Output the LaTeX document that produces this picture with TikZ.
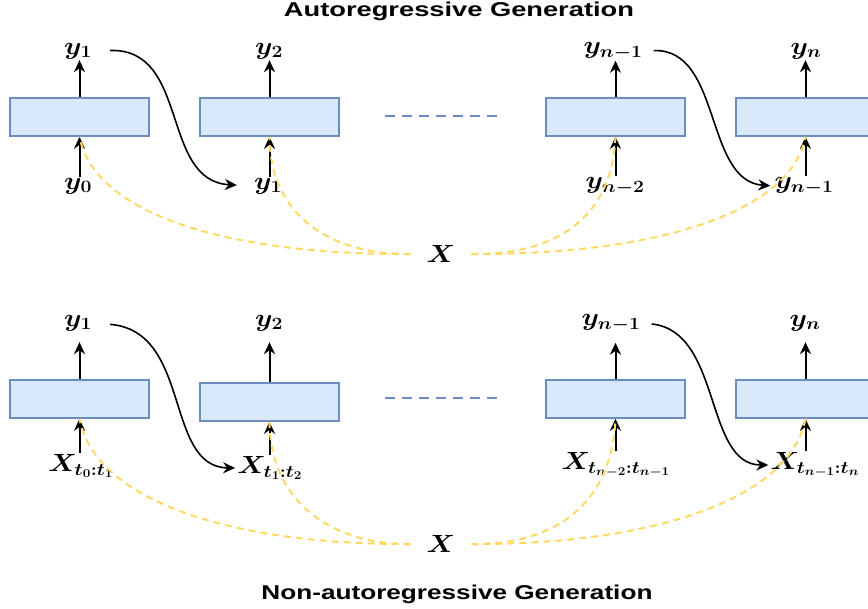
\documentclass[tikz,border=0pt]{standalone}
\usepackage{amsmath,bm,graphicx}
\usepackage{fontspec}
\setsansfont{Liberation Sans}
\usetikzlibrary{arrows.meta}
\definecolor{boxfill}{HTML}{DAE8FC}
\definecolor{boxdraw}{HTML}{6C8EBF}
\definecolor{gold}{HTML}{FFD966}
\newcommand\mlab[1]{\scalebox{1.12}[1]{$#1$}}
\begin{document}
\begin{tikzpicture}[x=1pt,y=-1pt,
  cell/.style={draw=boxdraw,fill=boxfill,line width=1.6pt,minimum width=139pt,minimum height=38pt,inner sep=0pt},
  lab/.style={inner sep=1pt,font=\boldmath\fontsize{25}{28}\selectfont},
  xlab/.style={lab,inner xsep=16pt},
  ttl/.style={inner sep=0pt,font=\sffamily\bfseries\fontsize{20}{22}\selectfont},
  arr/.style={draw=black,line width=2pt,-{Stealth[length=12pt,width=11pt]}},
  carr/.style={draw=black,line width=1.6pt,-{Stealth[length=12pt,width=11pt]}},
  gdash/.style={draw=gold,line width=2pt,dash pattern=on 7pt off 5pt},
  bdash/.style={draw=boxdraw,line width=2pt,dash pattern=on 10pt off 7pt}]
\useasboundingbox (0,0) rectangle (868,609);
% titles
\node[ttl] (t1) at (459,11) {\resizebox{350pt}{\height}{Autoregressive Generation}};
\node[ttl] (t2) at (457,594) {\resizebox{391pt}{\height}{Non-autoregressive Generation}};
% ---------- top row ----------
\node[cell] (a1) at (79.5,117) {};
\node[cell] (a2) at (269.5,117) {};
\node[cell] (a3) at (615.5,117) {};
\node[cell] (a4) at (805.5,117) {};
\coordinate (da) at (385,116);
\coordinate (db) at (500,116);
\draw[bdash] (da) -- (db);
\node[lab] (ao1) at (78,51) {\mlab{y_1}};
\node[lab] (ao2) at (269,51) {\mlab{y_2}};
\node[lab] (ao3) at (613,51) {\mlab{y_{n-1}}};
\node[lab] (ao4) at (806,51) {\mlab{y_n}};
\node[lab] (ai1) at (78,186) {\mlab{y_0}};
\node[lab] (ai2) at (268,186) {\mlab{y_1}};
\node[lab] (ai3) at (615,186) {\mlab{y_{n-2}}};
\node[lab] (ai4) at (804,186) {\mlab{y_{n-1}}};
\node[xlab] (ax) at (441,254) {\mlab{X}};
\foreach \i in {1,...,4}{
  \draw[arr] (a\i.north) -- (a\i.north |- ao\i.south);
  \draw[arr] (a\i.south |- ai\i.north) -- (a\i.south);
}
\draw[carr,shorten <=17pt,shorten >=16pt] (ao1.east) .. controls (190,48) and (160,181) .. (ai2.west);
\draw[carr,shorten <=10pt,shorten >=3pt] (ao3.east) .. controls (722,48) and (704,181) .. (ai4.west);
\draw[gdash] (ax.west) .. controls (230,255) and (95,215) .. (a1.south);
\draw[gdash] (ax.west) .. controls (330,255) and (270,215) .. (a2.south);
\draw[gdash] (ax.east) .. controls (560,255) and (612,215) .. (a3.south);
\draw[gdash] (ax.east) .. controls (650,255) and (790,215) .. (a4.south);
% ---------- bottom row ----------
\node[cell] (b1) at (79.5,399) {};
\node[cell] (b2) at (269.5,402) {};
\node[cell] (b3) at (615.5,399) {};
\node[cell] (b4) at (805.5,399) {};
\coordinate (dc) at (385,398);
\coordinate (dd) at (500,398);
\draw[bdash] (dc) -- (dd);
\node[lab] (bo1) at (78,323) {\mlab{y_1}};
\node[lab] (bo2) at (269,323) {\mlab{y_2}};
\node[lab] (bo3) at (611,323) {\mlab{y_{n-1}}};
\node[lab] (bo4) at (805,323) {\mlab{y_n}};
\node[lab] (bi1) at (81,466) {\mlab{X_{t_0:t_1}}};
\node[lab] (bi2) at (270,468) {\mlab{X_{t_1:t_2}}};
\node[lab] (bi3) at (616,465) {\mlab{X_{t_{n-2}:t_{n-1}}}};
\node[lab] (bi4) at (815,465) {\mlab{X_{t_{n-1}:t_n}}};
\node[xlab] (bx) at (441,544) {\mlab{X}};
\foreach \i in {1,...,4}{
  \draw[arr,shorten >=10pt] (b\i.north) -- (b\i.north |- bo\i.south);
  \draw[arr] (b\i.south |- bi\i.north) -- (b\i.south);
}
\draw[carr,shorten <=17pt,shorten >=1pt] (bo1.east) .. controls (192,331) and (164,467) .. (bi2.west);
\draw[carr,shorten <=10pt,shorten >=1pt] (bo3.east) .. controls (722,331) and (704,465) .. (bi4.west);
\draw[gdash] (bx.west) .. controls (230,545) and (95,500) .. (b1.south);
\draw[gdash] (bx.west) .. controls (330,545) and (270,500) .. (b2.south);
\draw[gdash] (bx.east) .. controls (560,545) and (612,500) .. (b3.south);
\draw[gdash] (bx.east) .. controls (650,545) and (790,500) .. (b4.south);
\end{tikzpicture}
\end{document}
